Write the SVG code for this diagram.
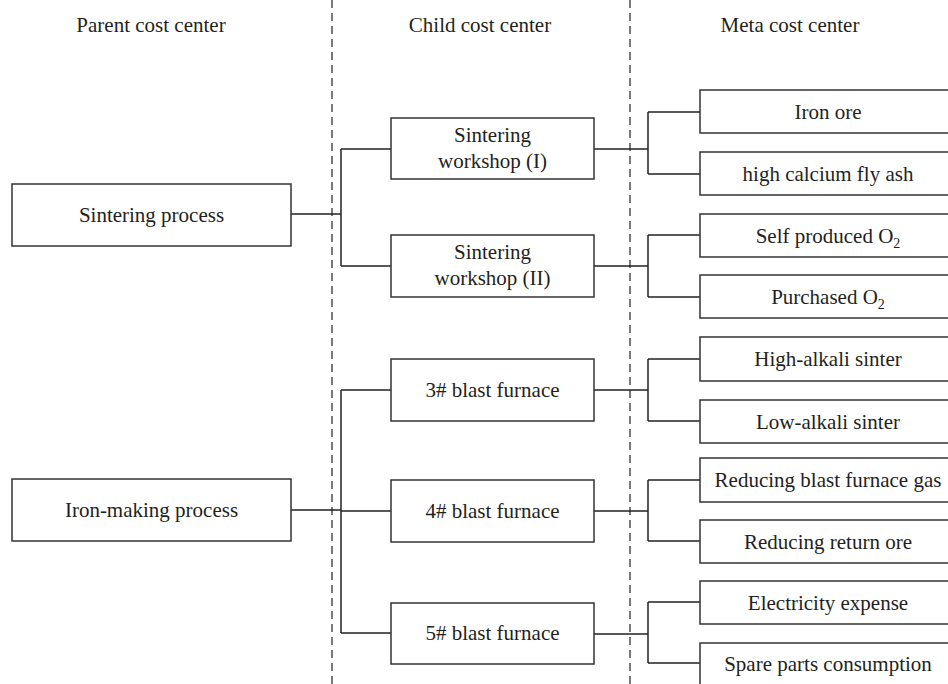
<svg xmlns="http://www.w3.org/2000/svg" width="948" height="684" viewBox="0 0 948 684">
<style>
  .box { fill: #ffffff; stroke: #333333; stroke-width: 1.5; }
  .t { font-family: "Liberation Serif", "Times New Roman", serif; font-size: 21px; fill: #231f20; text-anchor: middle; }
  .sub { font-size: 14px; }
  .conn { fill: none; stroke: #222222; stroke-width: 1.5; }
  .dash { fill: none; stroke: #222222; stroke-width: 1.2; stroke-dasharray: 8 5; }
</style>
<rect x="0" y="0" width="948" height="684" fill="#ffffff"/>

<g id="dividers">
  <line class="dash" x1="332" y1="0" x2="332" y2="684"/>
  <line class="dash" x1="630" y1="0" x2="630" y2="684"/>
</g>

<g id="headers">
  <text class="t" x="151" y="32">Parent cost center</text>
  <text class="t" x="480" y="32">Child cost center</text>
  <text class="t" x="790" y="32">Meta cost center</text>
</g>

<g id="connectors">
  <path class="conn" d="M291,214 H341 M341,149 V266 M341,149 H391 M341,266 H391"/>
  <path class="conn" d="M291,510 H341 M341,390 V633 M341,390 H391 M341,511 H391 M341,633 H391"/>
  <path class="conn" d="M594,149 H648 M648,112 V174 M648,112 H700 M648,174 H700"/>
  <path class="conn" d="M594,266 H648 M648,235 V297 M648,235 H700 M648,297 H700"/>
  <path class="conn" d="M594,390 H648 M648,359 V421 M648,359 H700 M648,421 H700"/>
  <path class="conn" d="M594,511 H648 M648,480 V541 M648,480 H700 M648,541 H700"/>
  <path class="conn" d="M594,634 H648 M648,602 V663 M648,602 H700 M648,663 H700"/>
</g>

<g id="parent-sintering">
  <rect class="box" x="12" y="184" width="279" height="62"/>
  <text class="t" x="151.5" y="222">Sintering process</text>
</g>
<g id="parent-ironmaking">
  <rect class="box" x="12" y="479" width="279" height="62"/>
  <text class="t" x="151.5" y="517">Iron-making process</text>
</g>

<g id="child-sw1">
  <rect class="box" x="391" y="118" width="203" height="61"/>
  <text class="t" x="492.5" y="142">Sintering</text>
  <text class="t" x="492.5" y="168">workshop (I)</text>
</g>
<g id="child-sw2">
  <rect class="box" x="391" y="235" width="203" height="62"/>
  <text class="t" x="492.5" y="259">Sintering</text>
  <text class="t" x="492.5" y="285">workshop (II)</text>
</g>
<g id="child-bf3">
  <rect class="box" x="391" y="359" width="203" height="62"/>
  <text class="t" x="492.5" y="397">3# blast furnace</text>
</g>
<g id="child-bf4">
  <rect class="box" x="391" y="480" width="203" height="62"/>
  <text class="t" x="492.5" y="518">4# blast furnace</text>
</g>
<g id="child-bf5">
  <rect class="box" x="391" y="603" width="203" height="61"/>
  <text class="t" x="492.5" y="640">5# blast furnace</text>
</g>

<g id="meta-ironore">
  <rect class="box" x="700" y="90" width="270" height="43"/>
  <text class="t" x="828" y="118.5">Iron ore</text>
</g>
<g id="meta-flyash">
  <rect class="box" x="700" y="152" width="270" height="43"/>
  <text class="t" x="828" y="180.5">high calcium fly ash</text>
</g>
<g id="meta-selfo2">
  <rect class="box" x="700" y="214" width="270" height="43"/>
  <text class="t" x="828" y="242.5">Self produced O<tspan class="sub" dy="5">2</tspan></text>
</g>
<g id="meta-purchasedo2">
  <rect class="box" x="700" y="275" width="270" height="43"/>
  <text class="t" x="828" y="303.5">Purchased O<tspan class="sub" dy="5">2</tspan></text>
</g>
<g id="meta-highalkali">
  <rect class="box" x="700" y="337" width="270" height="44"/>
  <text class="t" x="828" y="366">High-alkali sinter</text>
</g>
<g id="meta-lowalkali">
  <rect class="box" x="700" y="400" width="270" height="43"/>
  <text class="t" x="828" y="428.5">Low-alkali sinter</text>
</g>
<g id="meta-rbfg">
  <rect class="box" x="700" y="458" width="270" height="44"/>
  <text class="t" x="828" y="487">Reducing blast furnace gas</text>
</g>
<g id="meta-rro">
  <rect class="box" x="700" y="520" width="270" height="43"/>
  <text class="t" x="828" y="548.5">Reducing return ore</text>
</g>
<g id="meta-elec">
  <rect class="box" x="700" y="581" width="270" height="43"/>
  <text class="t" x="828" y="609.5">Electricity expense</text>
</g>
<g id="meta-spare">
  <rect class="box" x="700" y="643" width="270" height="60"/>
  <text class="t" x="828" y="671">Spare parts consumption</text>
</g>
</svg>
